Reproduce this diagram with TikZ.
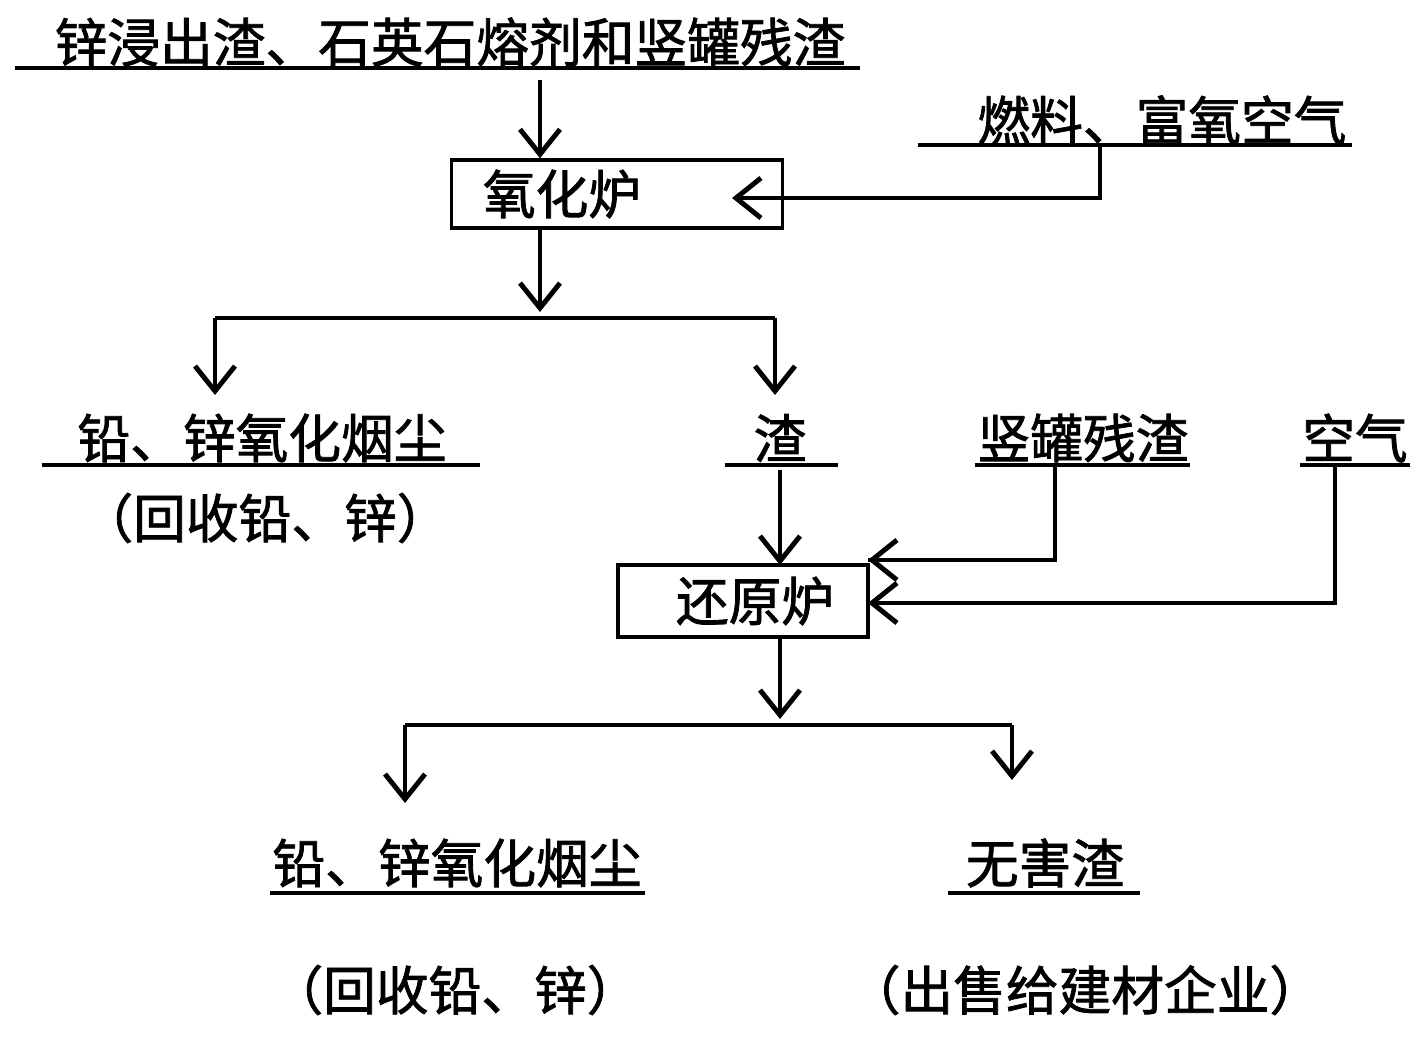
\documentclass[tikz,border=0pt]{standalone}
\usepackage{fontspec}
\setmainfont{Noto Sans CJK SC}[AutoFakeBold=1.5]
\usetikzlibrary{arrows.meta}
\begin{document}
\begin{tikzpicture}[x=0.02cm,y=-0.02cm,
  txt/.style={inner sep=0pt,font=\fontsize{30}{34}\selectfont\bfseries},
  box/.style={draw,line width=2pt,inner sep=0pt},
  ul/.style={line width=2pt},
  ln/.style={line width=2.6pt},
  ar/.style={line width=2.6pt,-{Straight Barb[length=5mm,width=8mm,line width=2.8pt]}}]
\useasboundingbox (0,0) rectangle (1417,1040);
\node[txt] (t1) at (450,42) {锌浸出渣、石英石熔剂和竖罐残渣};
\draw[ul] (15,68) -- (860,68);
\coordinate (a1) at (540,80);
\node[box,minimum width=331*0.02cm,minimum height=68*0.02cm] (ox) at (617,194) {};
\node[txt] at (562,194) {氧化炉};
\draw[ar] (a1) -- (ox.north -| a1);
\node[txt] (fu) at (1162,120) {燃料、富氧空气};
\draw[ul] (918,145) -- (1352,145);
\coordinate (f1) at (1100,145);
\coordinate (f2) at (1100,198);
\draw[ln] (f1) -- (f2) -- (783,198);
\draw[ar] (783,198) -- (732,198);
\coordinate (s1) at (540,318);
\draw[ar] (ox.south -| s1) -- (540,312);
\draw[ln] (215,318) -- (775,318);
\coordinate (l1) at (215,318);
\coordinate (r1) at (775,318);
\draw[ar] (l1) -- (215,395);
\draw[ar] (r1) -- (775,395);
\node[txt] (d1) at (262,438) {铅、锌氧化烟尘};
\draw[ul] (42,465) -- (480,465);
\node[txt] at (265,518) {（回收铅、锌）};
\node[txt] (z) at (780,438) {渣};
\draw[ul] (725,465) -- (838,465);
\node[txt] (sg) at (1083,438) {竖罐残渣};
\draw[ul] (975,465) -- (1190,465);
\node[txt] (kq) at (1355,438) {空气};
\draw[ul] (1300,465) -- (1410,465);
\node[box,minimum width=250*0.02cm,minimum height=72*0.02cm] (re) at (743,601) {};
\node[txt] at (755,601) {还原炉};
\draw[ar] (780,470) -- (780,565);
\draw[ln] (1055,465) -- (1055,560) -- (868,560);
\draw[ar] (930,560) -- (868,560);
\draw[ln] (1335,465) -- (1335,603) -- (868,603);
\draw[ar] (930,603) -- (868,603);
\draw[ar] (780,637) -- (780,719);
\draw[ln] (405,725) -- (1012,725);
\draw[ar] (405,725) -- (405,803);
\draw[ar] (1012,725) -- (1012,780);
\node[txt] (d2) at (457,863) {铅、锌氧化烟尘};
\draw[ul] (270,893) -- (645,893);
\node[txt] at (455,990) {（回收铅、锌）};
\node[txt] (wh) at (1045,863) {无害渣};
\draw[ul] (948,893) -- (1140,893);
\node[txt] at (1085,990) {（出售给建材企业）};
\end{tikzpicture}
\end{document}
